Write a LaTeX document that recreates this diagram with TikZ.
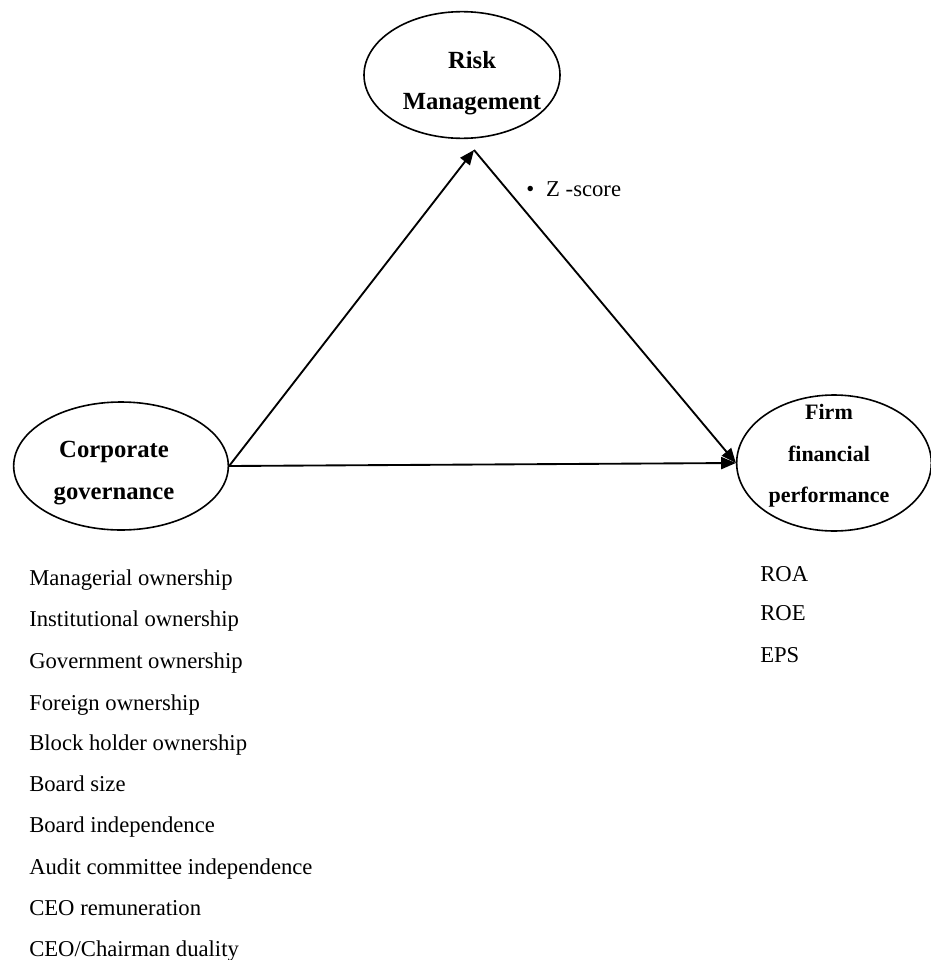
\documentclass[tikz,border=0pt]{standalone}
\usepackage{fontspec}
\setmainfont{Liberation Serif}
\usetikzlibrary{shapes.geometric,arrows.meta}
\begin{document}
\begin{tikzpicture}[x=0.75pt,y=-0.75pt,
  ell/.style={draw,ellipse,line width=1.2pt,inner sep=0pt},
  lbl/.style={align=center,font=\fontsize{18.5}{31}\selectfont\bfseries},
  item/.style={anchor=mid west,inner sep=0pt,font=\fontsize{17}{19}\selectfont},
  arr/.style={line width=1.4pt,-{Triangle[length=11pt,width=9pt]}}]
\useasboundingbox (0,0) rectangle (931,960);
\node[ell,minimum width=147pt,minimum height=95pt] (rm) at (462,75) {};
\node[ell,minimum width=161pt,minimum height=96pt] (cg) at (121,466) {};
\node[ell,minimum width=146pt,minimum height=102pt] (ff) at (834,463) {};
\node[lbl] (rmt) at (472,83) {Risk\\Management};
\node[lbl] (cgt) at (114,473) {Corporate\\governance};
\node[lbl,font=\fontsize{16.5}{31}\selectfont\bfseries] (fft) at (829,456) {Firm\\financial\\performance};
\coordinate (rmb) at (474,150);
\draw[arr] (cg.east) -- (rmb);
\draw[arr] (rmb) -- (ff.west);
\draw[arr] (cg.east) -- (ff.west);
\node[item] (z) at (526,193) {\textbullet\hspace{9pt}Z -score};
\node[item] (l1) at (29,582) {Managerial ownership};
\node[item] (l2) at (29,623) {Institutional ownership};
\node[item] (l3) at (29,665) {Government ownership};
\node[item] (l4) at (29,707) {Foreign ownership};
\node[item] (l5) at (29,747) {Block holder ownership};
\node[item] (l6) at (29,788) {Board size};
\node[item] (l7) at (29,829) {Board independence};
\node[item] (l8) at (29,871) {Audit committee independence};
\node[item] (l9) at (29,912) {CEO remuneration};
\node[item] (l10) at (29,953) {CEO/Chairman duality};
\node[item] (r1) at (760,578) {ROA};
\node[item] (r2) at (760,617) {ROE};
\node[item] (r3) at (760,659) {EPS};
\end{tikzpicture}
\end{document}
